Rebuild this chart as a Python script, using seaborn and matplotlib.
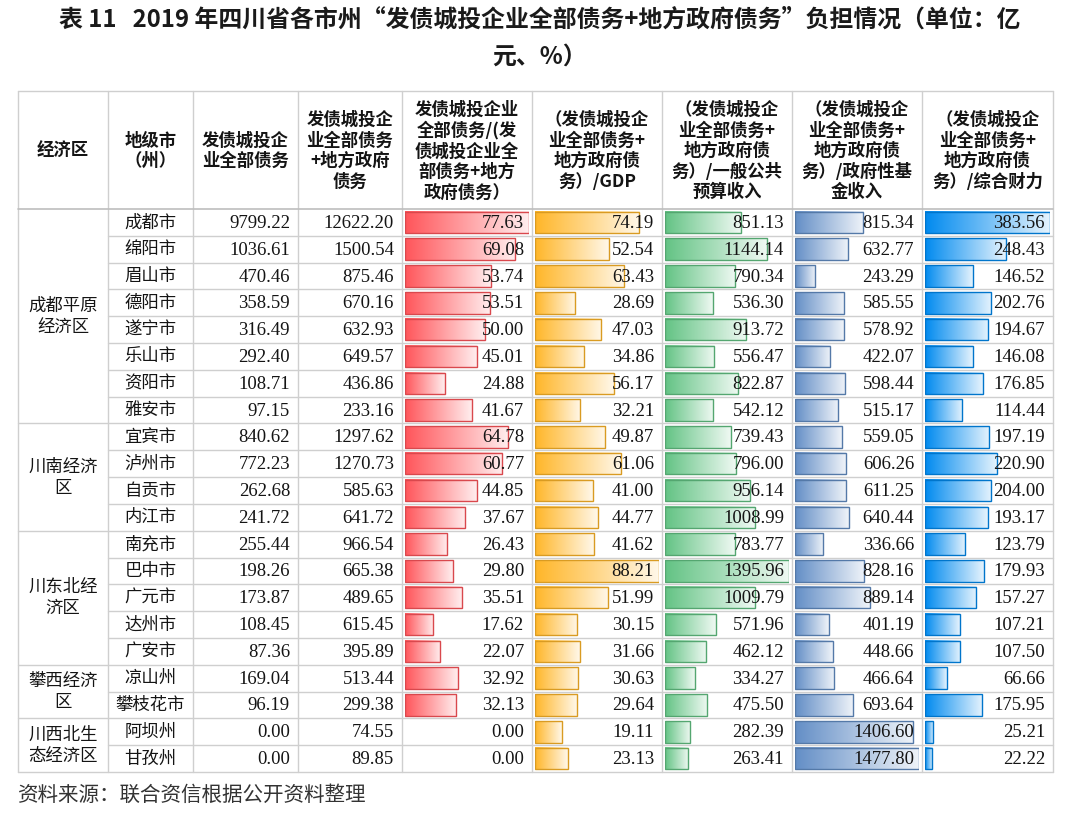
import numpy as np
import pandas as pd
import matplotlib
matplotlib.use("Agg")
import matplotlib.pyplot as plt
import matplotlib.colors as mcolors
import seaborn as sns

# ---------------- data ----------------
title_line1 = "表 11   2019 年四川省各市州“发债城投企业全部债务+地方政府债务”负担情况（单位：亿"
title_line2 = "元、%）"
source_note = "资料来源：联合资信根据公开资料整理"

headers = [
    "经济区",
    "地级市\n（州）",
    "发债城投企\n业全部债务",
    "发债城投企\n业全部债务\n+地方政府\n债务",
    "发债城投企业\n全部债务/(发\n债城投企业全\n部债务+地方\n政府债务）",
    "（发债城投企\n业全部债务+\n地方政府债\n务）/GDP",
    "（发债城投企\n业全部债务+\n地方政府债\n务）/一般公共\n预算收入",
    "（发债城投企\n业全部债务+\n地方政府债\n务）/政府性基\n金收入",
    "（发债城投企\n业全部债务+\n地方政府债\n务）/综合财力",
]

regions = ["成都平原\n经济区", "川南经济\n区", "川东北经\n济区", "攀西经济\n区", "川西北生\n态经济区"]
region_sizes = [8, 4, 5, 2, 2]

cities = ["成都市", "绵阳市", "眉山市", "德阳市", "遂宁市", "乐山市", "资阳市", "雅安市",
          "宜宾市", "泸州市", "自贡市", "内江市",
          "南充市", "巴中市", "广元市", "达州市", "广安市",
          "凉山州", "攀枝花市",
          "阿坝州", "甘孜州"]

debt_lgfv = [9799.22, 1036.61, 470.46, 358.59, 316.49, 292.40, 108.71, 97.15,
             840.62, 772.23, 262.68, 241.72,
             255.44, 198.26, 173.87, 108.45, 87.36,
             169.04, 96.19,
             0.00, 0.00]
debt_total = [12622.20, 1500.54, 875.46, 670.16, 632.93, 649.57, 436.86, 233.16,
              1297.62, 1270.73, 585.63, 641.72,
              966.54, 665.38, 489.65, 615.45, 395.89,
              513.44, 299.38,
              74.55, 89.85]
share_lgfv = [77.63, 69.08, 53.74, 53.51, 50.00, 45.01, 24.88, 41.67,
              64.78, 60.77, 44.85, 37.67,
              26.43, 29.80, 35.51, 17.62, 22.07,
              32.92, 32.13,
              0.00, 0.00]
ratio_gdp = [74.19, 52.54, 63.43, 28.69, 47.03, 34.86, 56.17, 32.21,
             49.87, 61.06, 41.00, 44.77,
             41.62, 88.21, 51.99, 30.15, 31.66,
             30.63, 29.64,
             19.11, 23.13]
ratio_budget = [851.13, 1144.14, 790.34, 536.30, 913.72, 556.47, 822.87, 542.12,
                739.43, 796.00, 956.14, 1008.99,
                783.77, 1395.96, 1009.79, 571.96, 462.12,
                334.27, 475.50,
                282.39, 263.41]
ratio_fund = [815.34, 632.77, 243.29, 585.55, 578.92, 422.07, 598.44, 515.17,
              559.05, 606.26, 611.25, 640.44,
              336.66, 828.16, 889.14, 401.19, 448.66,
              466.64, 693.64,
              1406.60, 1477.80]
ratio_fin = [383.56, 248.43, 146.52, 202.76, 194.67, 146.08, 176.85, 114.44,
             197.19, 220.90, 204.00, 193.17,
             123.79, 179.93, 157.27, 107.21, 107.50,
             66.66, 175.95,
             25.21, 22.22]

plain_cols = [debt_lgfv, debt_total]
bar_cols = [share_lgfv, ratio_gdp, ratio_budget, ratio_fund, ratio_fin]
bar_colors = ["#FF555A", "#FFB628", "#63C384", "#638EC6", "#008AEF"]

# ---------------- style ----------------
sns.set_style("white")
plt.rcParams["font.family"] = ["Noto Sans CJK SC", "DejaVu Sans"]

W, H = 1080, 814
fig = plt.figure(figsize=(W / 100, H / 100), dpi=100)
fig.patch.set_facecolor("white")

col_edges = [18, 108, 193, 298, 402, 532, 662, 792, 922, 1053]
table_top, head_bot, table_bot = 91, 209, 772
n = len(cities)
row_h = (table_bot - head_bot) / n
line_c = "#cfcfcf"
txt_c = "#141414"

# ---------------- data bars (seaborn) ----------------
for k, (vals, colr) in enumerate(zip(bar_cols, bar_colors)):
    L, R = col_edges[4 + k], col_edges[5 + k]
    x0 = L + 3
    x1 = R - 3
    bax = fig.add_axes([x0 / W, (H - table_bot) / H, (x1 - x0) / W, (table_bot - head_bot) / H])
    df = pd.DataFrame({"city": cities, "value": vals})
    sns.barplot(data=df, x="value", y="city", orient="h", ax=bax, color=colr,
                width=0.8, saturation=1, order=cities)
    vmax = max(vals)
    base = np.array(mcolors.to_rgb(colr))
    light = base + (1 - base) * 0.9
    cmap = mcolors.LinearSegmentedColormap.from_list("g%d" % k, [base, light])
    edge = base * 0.85
    grad = np.linspace(0, 1, 256).reshape(1, -1)
    for p in list(bax.patches):
        w = p.get_width()
        if w <= 0:
            p.set_visible(False)
            continue
        px, py, ph = p.get_x(), p.get_y(), p.get_height()
        bax.imshow(grad, extent=(px, px + w, py, py + ph), cmap=cmap, aspect="auto",
                   interpolation="bilinear", zorder=1)
        p.set_facecolor("none")
        p.set_edgecolor(edge)
        p.set_linewidth(1.0)
        p.set_zorder(2)
    bax.set_xlim(0, vmax)
    bax.set_ylim(n - 0.5, -0.5)
    bax.axis("off")

# ---------------- table canvas ----------------
ax = fig.add_axes([0, 0, 1, 1], zorder=10)
ax.set_xlim(0, W)
ax.set_ylim(H, 0)
ax.axis("off")
ax.patch.set_alpha(0)

# vertical lines
for x in col_edges:
    ax.plot([x, x], [table_top, table_bot], color=line_c, lw=1.0)
# outer top / header bottom
ax.plot([col_edges[0], col_edges[-1]], [table_top, table_top], color=line_c, lw=1.0)
ax.plot([col_edges[0], col_edges[-1]], [head_bot, head_bot], color="#bdbdbd", lw=1.2)
ax.plot([col_edges[0], col_edges[-1]], [table_bot, table_bot], color=line_c, lw=1.0)
# row lines
group_bounds = np.cumsum(region_sizes)
for i in range(1, n):
    y = head_bot + i * row_h
    x_start = col_edges[0] if i in group_bounds else col_edges[1]
    ax.plot([x_start, col_edges[-1]], [y, y], color=line_c, lw=1.0)

# header texts
for j, htxt in enumerate(headers):
    cx = (col_edges[j] + col_edges[j + 1]) / 2
    ax.text(cx, (table_top + head_bot) / 2 + 1, htxt, ha="center", va="center",
            fontsize=12.5, fontweight="bold", color=txt_c, linespacing=1.18)

# region labels
start = 0
for reg, sz in zip(regions, region_sizes):
    cy = head_bot + (start + sz / 2) * row_h
    ax.text((col_edges[0] + col_edges[1]) / 2, cy, reg, ha="center", va="center",
            fontsize=12.5, color=txt_c, linespacing=1.25)
    start += sz

# city names & numbers
for i, city in enumerate(cities):
    cy = head_bot + (i + 0.5) * row_h
    ax.text((col_edges[1] + col_edges[2]) / 2, cy, city, ha="center", va="center",
            fontsize=12.5, color=txt_c)
    for j, col in enumerate(plain_cols + bar_cols):
        R = col_edges[3 + j]
        ax.text(R - 8, cy + 1, f"{col[i]:.2f}", ha="right", va="center",
                fontsize=13.5, family="Liberation Serif", color=txt_c)

# title & source
ax.text(W / 2, 20, title_line1, ha="center", va="center", fontsize=17.2,
        fontweight="bold", color="#1a1a1a")
ax.text(W / 2, 57, title_line2, ha="center", va="center", fontsize=17.2,
        fontweight="bold", color="#1a1a1a")
ax.text(18, 795, source_note, ha="left", va="center", fontsize=14.8, color="#333333")

fig.savefig("out.png", dpi=100, facecolor="white")
